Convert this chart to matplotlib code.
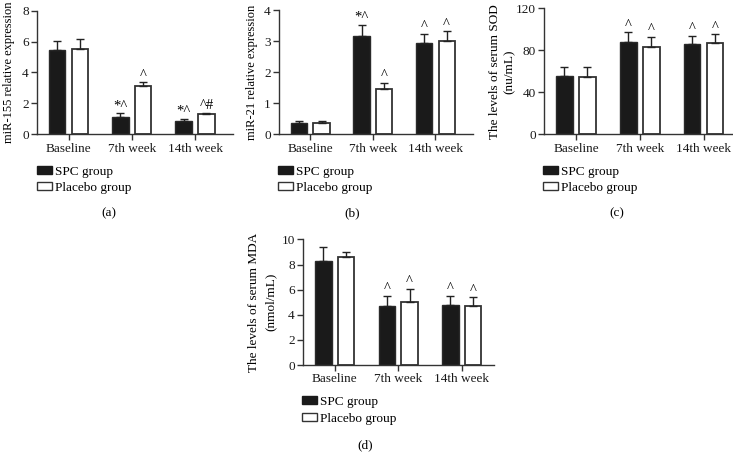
import numpy as np
import matplotlib as mpl
from matplotlib import pyplot as plt
from matplotlib.patches import Patch

mpl.rcParams['font.family'] = ['Liberation Serif', 'DejaVu Serif']
mpl.rcParams['font.size'] = 9.5
mpl.rcParams['axes.linewidth'] = 1.0
mpl.rcParams['axes.edgecolor'] = '#333333'
mpl.rcParams['xtick.color'] = '#333333'
mpl.rcParams['ytick.color'] = '#333333'
mpl.rcParams['xtick.labelcolor'] = '#1a1a1a'
mpl.rcParams['ytick.labelcolor'] = '#1a1a1a'

W, H = 733, 465

groups = ['Baseline', '7th week', '14th week']
series = ['SPC group', 'Placebo group']

# (a) miR-155
mir155_spc = [5.45, 1.14, 0.84]
mir155_spc_err = [0.56, 0.22, 0.15]
mir155_pla = [5.54, 3.13, 1.31]
mir155_pla_err = [0.60, 0.23, 0.09]
mir155_spc_marks = ['', '*^', '*^']
mir155_pla_marks = ['', '^', '^#']

# (b) miR-21
mir21_spc = [0.35, 3.16, 2.93]
mir21_spc_err = [0.09, 0.36, 0.30]
mir21_pla = [0.35, 1.46, 3.01]
mir21_pla_err = [0.07, 0.21, 0.31]
mir21_spc_marks = ['', '*^', '^']
mir21_pla_marks = ['', '^', '^']

# (c) SOD
sod_spc = [55.9, 88.3, 86.3]
sod_spc_err = [8.0, 8.9, 7.6]
sod_pla = [54.9, 83.5, 87.0]
sod_pla_err = [9.0, 9.5, 8.3]
sod_spc_marks = ['', '^', '^']
sod_pla_marks = ['', '^', '^']

# (d) MDA
mda_spc = [8.29, 4.68, 4.82]
mda_spc_err = [1.13, 0.85, 0.68]
mda_pla = [8.63, 5.00, 4.74]
mda_pla_err = [0.37, 1.05, 0.65]
mda_spc_marks = ['', '^', '^']
mda_pla_marks = ['', '^', '^']

fig = plt.figure(figsize=(W / 100, H / 100), dpi=100)


def px_axes(left, top, width, bottom):
    return fig.add_axes([left / W, 1 - bottom / H, width / W, (bottom - top) / H])


def draw_panel(ax, spc, spc_err, pla, pla_err, spc_marks, pla_marks,
               ylim, yticks, ylabel, xlim, label_x, linespacing=1.2, label_size=9.5):
    x = np.arange(len(groups))
    bw = 0.26
    off = 0.18
    ax.bar(x - off, spc, bw, color='#1a1a1a', edgecolor='#2a2a2a', linewidth=1, zorder=2)
    ax.bar(x + off, pla, bw, color='white', edgecolor='#333333', linewidth=1.3, zorder=2)
    for xs, v, e in [(x - off, spc, spc_err), (x + off, pla, pla_err)]:
        ax.errorbar(xs, v, yerr=[np.zeros(len(v)), e], fmt='none', ecolor='#222222',
                    elinewidth=1, capsize=3.2, capthick=1, zorder=3)
    for xs, v, e, marks in [(x - off, spc, spc_err, spc_marks), (x + off, pla, pla_err, pla_marks)]:
        for i, m in enumerate(marks):
            if m:
                ax.annotate(m, (xs[i], v[i] + e[i]), xytext=(0, 0.5), textcoords='offset points',
                            ha='center', va='bottom', fontsize=10.5)
    ax.set_xlim(*xlim)
    ax.set_ylim(*ylim)
    ax.set_yticks(yticks)
    ax.set_xticks(x)
    ax.set_xticklabels(groups)
    ax.tick_params(length=4, width=1, pad=2)
    for s in ['top', 'right']:
        ax.spines[s].set_visible(False)
    ax.set_ylabel(ylabel, linespacing=linespacing, fontsize=label_size)
    ax.yaxis.set_label_coords(label_x, 0.5)


def add_legend(ax, left, top):
    handles = [Patch(facecolor='#1a1a1a', edgecolor='#1a1a1a', linewidth=1),
               Patch(facecolor='white', edgecolor='#333333', linewidth=1)]
    ax.legend(handles, series, loc='upper left', bbox_to_anchor=(left / W, 1 - top / H),
              bbox_transform=fig.transFigure, frameon=False, borderpad=0, borderaxespad=0,
              handlelength=1.15, handleheight=0.55, handletextpad=0.25, labelspacing=0.35,
              fontsize=9.5)


ax_a = px_axes(37, 10.7, 196, 134.3)
draw_panel(ax_a, mir155_spc, mir155_spc_err, mir155_pla, mir155_pla_err,
           mir155_spc_marks, mir155_pla_marks, (0, 8), [0, 2, 4, 6, 8],
           'miR-155 relative expression', (-0.5, 2.6), -0.11, label_size=9)
add_legend(ax_a, 36.5, 165.5)

ax_b = px_axes(279, 10.3, 194, 134.3)
draw_panel(ax_b, mir21_spc, mir21_spc_err, mir21_pla, mir21_pla_err,
           mir21_spc_marks, mir21_pla_marks, (0, 4), [0, 1, 2, 3, 4],
           'miR-21 relative expression', (-0.5, 2.6), -0.11, label_size=9)
add_legend(ax_b, 278, 165.5)

ax_c = px_axes(544, 8.3, 198, 134.3)
draw_panel(ax_c, sod_spc, sod_spc_err, sod_pla, sod_pla_err,
           sod_spc_marks, sod_pla_marks, (0, 120), [0, 40, 80, 120],
           'The levels of serum SOD\n(nu/mL)', (-0.5, 2.6), -0.145)
add_legend(ax_c, 543, 165.5)

ax_d = px_axes(303, 239.5, 190.5, 365)
draw_panel(ax_d, mda_spc, mda_spc_err, mda_pla, mda_pla_err,
           mda_spc_marks, mda_pla_marks, (0, 10), [0, 2, 4, 6, 8, 10],
           'The levels of serum MDA\n(nmol/mL)', (-0.5, 2.5), -0.14, linespacing=1.5)
add_legend(ax_d, 302, 396)

for lab, xp, yp in [('(a)', 109, 213), ('(b)', 352, 213), ('(c)', 617, 213), ('(d)', 365, 445)]:
    fig.text(xp / W, 1 - yp / H, lab, ha='center', va='center', fontsize=9.5)

fig.savefig('out.png', dpi=100)
